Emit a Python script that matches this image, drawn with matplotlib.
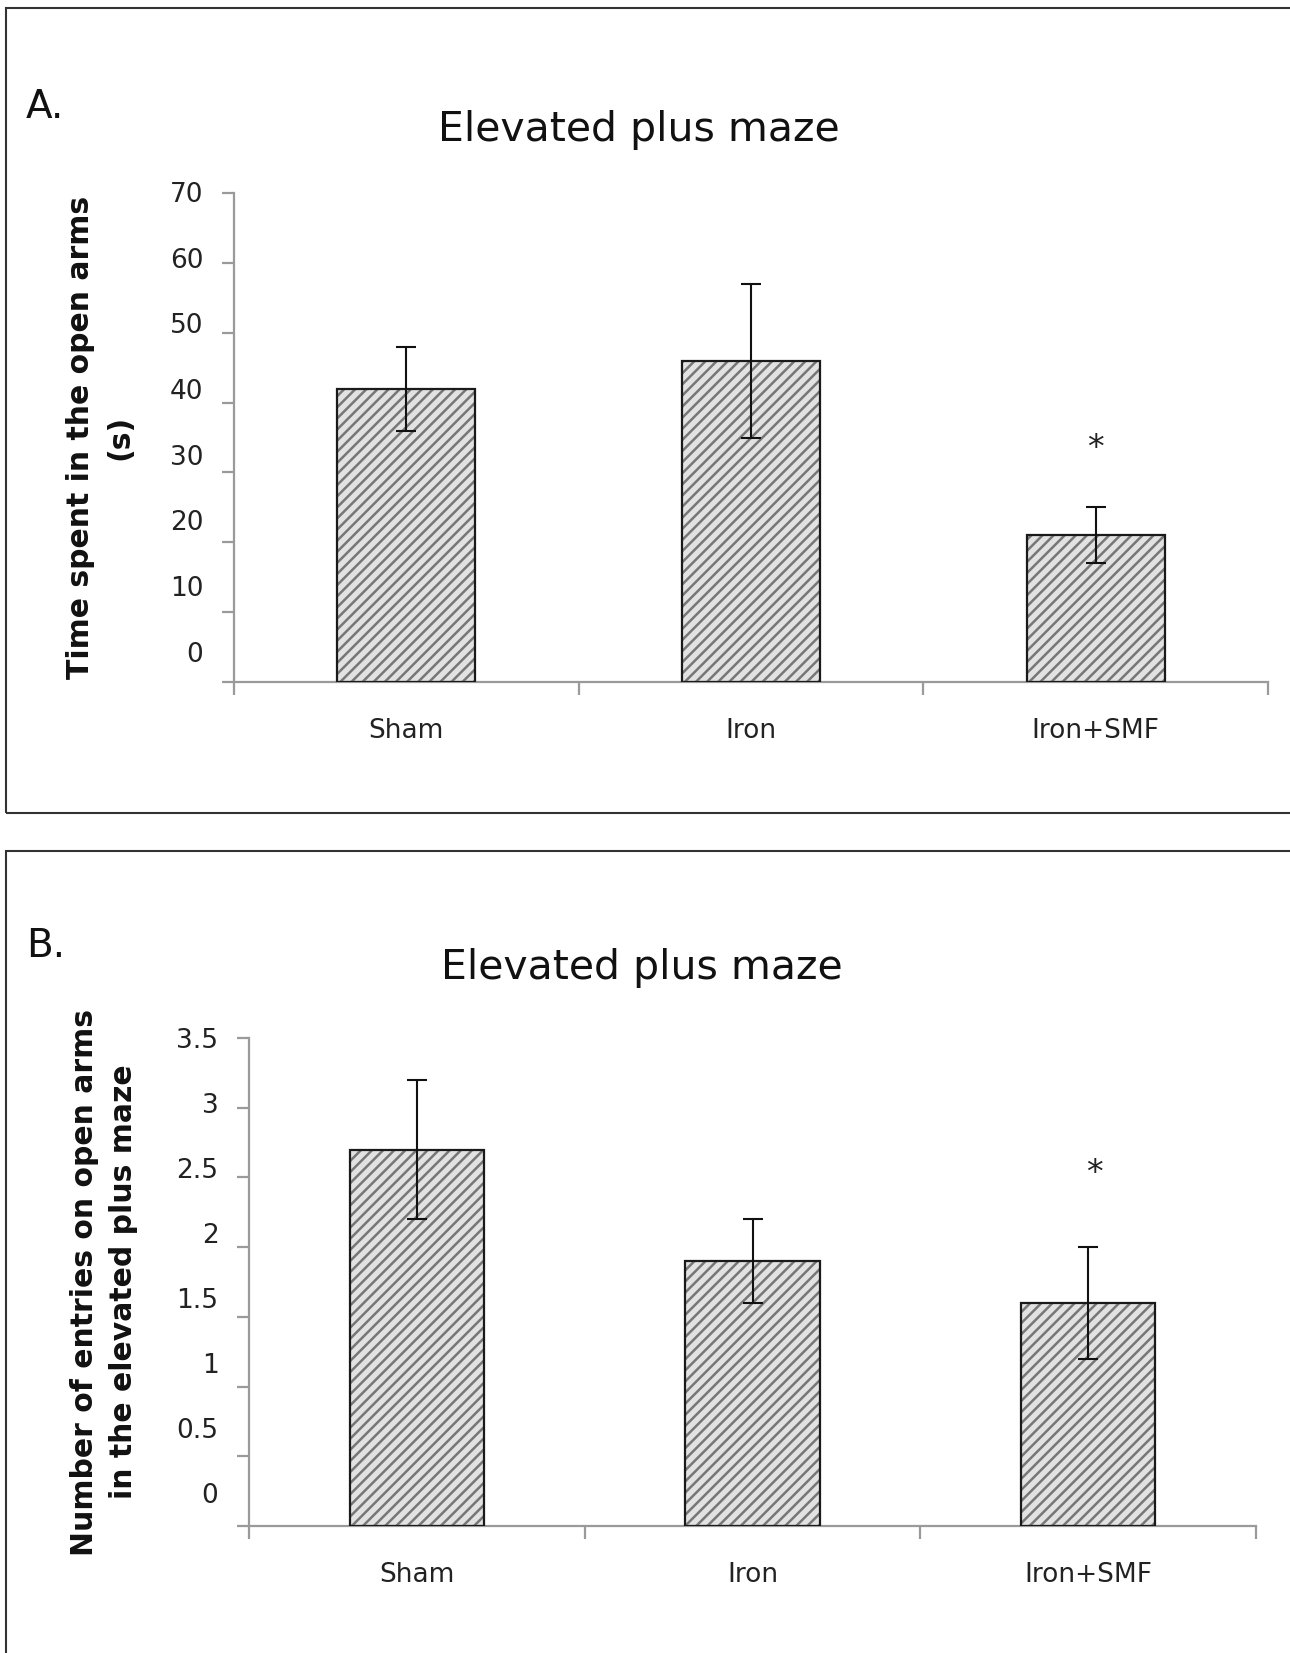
import matplotlib
matplotlib.use("Agg")
import matplotlib.pyplot as plt
from matplotlib.patches import Rectangle
from matplotlib.ticker import FixedLocator, NullFormatter, FixedFormatter

categories = ["Sham", "Iron", "Iron+SMF"]
time_means = [42, 46, 21]
time_err = [6, 11, 4]
entries_means = [2.7, 1.9, 1.6]
entries_err = [0.5, 0.3, 0.4]
time_ticks = [0, 10, 20, 30, 40, 50, 60, 70]
time_ticklabels = ["0", "10", "20", "30", "40", "50", "60", "70"]
entries_ticks = [0, 0.5, 1, 1.5, 2, 2.5, 3, 3.5]
entries_ticklabels = ["0", "0.5", "1", "1.5", "2", "2.5", "3", "3.5"]
title = "Elevated plus maze"
ylabel_a = "Time spent in the open arms\n(s)"
ylabel_b = "Number of entries on open arms\nin the elevated plus maze"
sig_a = 33.4
sig_b = 2.53

W, H = 1290, 1653
plt.rcParams["font.family"] = ["DejaVu Sans"]
plt.rcParams["hatch.linewidth"] = 1.8
fig = plt.figure(figsize=(W / 100, H / 100), dpi=100)
fig.patch.set_facecolor("white")


def fx(px):
    return px / W


def fy(py):
    return 1 - py / H


# panel frames
fig.patches.append(Rectangle((fx(6), fy(813)), fx(1400), fy(8) - fy(813),
                             transform=fig.transFigure, fill=False,
                             edgecolor="#333333", linewidth=1.5))
fig.patches.append(Rectangle((fx(6), fy(1700)), fx(1400), fy(851) - fy(1700),
                             transform=fig.transFigure, fill=False,
                             edgecolor="#333333", linewidth=1.5))


def draw_panel(rect, means, errs, ylim, ticks, ticklabels, sig_y, sig_dx,
               letter, letter_xy, title_xy, ylabel, ylabel_x, lab_top, lab_k):
    l, r, b, t = rect
    ax = fig.add_axes([fx(l), fy(b), fx(r) - fx(l), fy(t) - fy(b)])
    xs = [0.5, 1.5, 2.5]
    ax.bar(xs, means, width=0.4, color="#e2e2e2", edgecolor="#777777",
           hatch="///", linewidth=0, zorder=2)
    ax.bar(xs, means, width=0.4, fill=False, edgecolor="#1a1a1a",
           linewidth=1.6, zorder=3)
    ax.errorbar(xs, means, yerr=errs, fmt="none", ecolor="#111111",
                elinewidth=1.5, capsize=7, capthick=1.5, zorder=4)
    ax.annotate("*", xy=(xs[-1], sig_y), xytext=(sig_dx, 0),
                textcoords="offset points", ha="center", va="center",
                fontsize=24, color="#222222")
    ax.set_xlim(0, 3)
    ax.set_ylim(*ylim)
    for s in ["top", "right"]:
        ax.spines[s].set_visible(False)
    for s in ["left", "bottom"]:
        ax.spines[s].set_color("#9a9a9a")
        ax.spines[s].set_linewidth(1.6)
    ax.yaxis.set_major_locator(FixedLocator(ticks))
    ax.yaxis.set_major_formatter(NullFormatter())
    ax.tick_params(axis="y", direction="out", length=9, width=1.6,
                   color="#9a9a9a")
    # tick labels sit slightly compressed toward the top, as in the source
    ymax = ylim[1]
    for v, lab in zip(ticks, ticklabels):
        yfrac = 1 + lab_top - (1 - v / ymax) * lab_k
        ax.annotate(lab, xy=(0, yfrac), xycoords="axes fraction",
                    xytext=(-22, 0), textcoords="offset points",
                    ha="right", va="center", fontsize=19, color="#222222")
    ax.xaxis.set_major_locator(FixedLocator([0, 1, 2, 3]))
    ax.xaxis.set_major_formatter(NullFormatter())
    ax.xaxis.set_minor_locator(FixedLocator(xs))
    ax.xaxis.set_minor_formatter(FixedFormatter(categories))
    ax.tick_params(axis="x", which="major", direction="out", length=9,
                   width=1.6, color="#9a9a9a")
    ax.tick_params(axis="x", which="minor", length=0, labelsize=19,
                   labelcolor="#222222", pad=26)
    fig.text(fx(letter_xy[0]), fy(letter_xy[1]), letter, fontsize=28,
             ha="left", va="baseline", color="#111111")
    fig.text(fx(title_xy[0]), fy(title_xy[1]), title, fontsize=29.5,
             ha="center", va="center", color="#111111")
    fig.text(fx(ylabel_x), fy((t + b) / 2), ylabel, fontsize=21.5,
             fontweight="bold", rotation=90, ha="center", va="center",
             multialignment="center", linespacing=1.45, color="#111111")
    return ax


draw_panel((234, 1268, 682, 193), time_means, time_err, (0, 70),
           time_ticks, time_ticklabels, sig_a, 0, "A.", (26, 118), (639, 130),
           ylabel_a, 100, -0.004, 0.94)
draw_panel((249, 1256, 1526, 1038), entries_means, entries_err, (0, 3.5),
           entries_ticks, entries_ticklabels, sig_b, 4.5, "B.", (26, 957),
           (642, 968), ylabel_b, 104, -0.0065, 0.933)

fig.savefig("out.png", dpi=100, facecolor="white")
